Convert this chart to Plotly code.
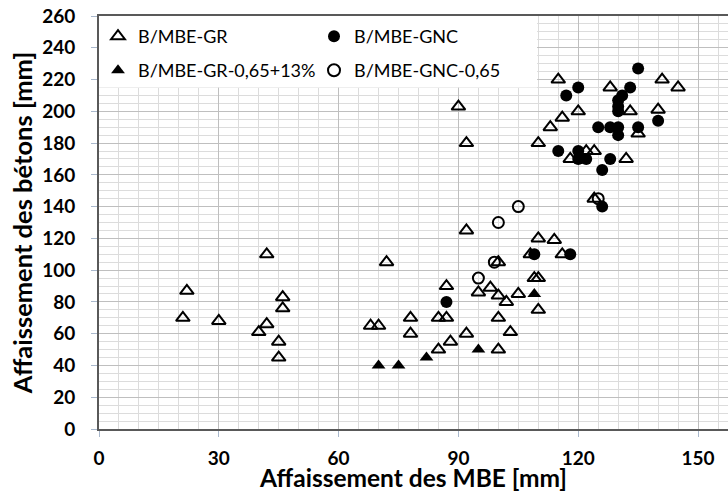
import plotly.graph_objects as go

# ---- data ----
gr_x = [22, 21, 30, 42, 46, 46, 42, 40, 45, 45,
        72, 68, 70, 78, 78, 85, 88, 85, 87, 87,
        92, 100, 95, 98, 100, 102, 105, 100, 103,
        92, 110, 114, 108, 116, 100, 109, 110, 110,
        124, 90, 92,
        115, 141, 145, 128, 133, 140, 120, 116, 113, 110, 135, 118, 122, 124, 132]
gr_y = [87, 70, 68, 110, 83, 76, 66, 61, 55, 45,
        105, 65, 65, 70, 60, 50, 55, 70, 70, 90,
        60, 50, 86, 89, 84, 80, 85, 70, 61,
        125, 120, 119, 110, 110, 105, 95, 95, 75,
        145, 203, 180,
        220, 220, 215, 215, 200, 201, 200, 196, 190, 180, 186, 170, 175, 175, 170]

gnc_x = [87, 109, 118, 126, 135, 120, 117, 133, 131, 130, 130, 130, 140,
         125, 128, 130, 130, 135, 115, 120, 120, 122, 128, 126]
gnc_y = [80, 110, 110, 140, 227, 215, 210, 215, 210, 207, 203, 200, 194,
         190, 190, 190, 185, 190, 175, 175, 170, 170, 170, 163]

gr65_x = [70, 75, 82, 95, 109]
gr65_y = [40, 40, 45, 50, 85]

gnc65_x = [95, 99, 100, 105, 125]
gnc65_y = [95, 105, 130, 140, 145]

names = ["B/MBE-GR", "B/MBE-GNC", "B/MBE-GR-0,65+13%", "B/MBE-GNC-0,65"]
x_title = "Affaissement des MBE [mm]"
y_title = "Affaissement des bétons [mm]"

FONT = "Lato"

fig = go.Figure()
fig.add_trace(go.Scatter(x=gr_x, y=gr_y, mode="markers", name=names[0], legend="legend",
                         marker=dict(symbol="triangle-up-open", size=12, color="black",
                                     line=dict(width=2, color="black"))))
fig.add_trace(go.Scatter(x=gnc_x, y=gnc_y, mode="markers", name=names[1], legend="legend2",
                         marker=dict(symbol="circle", size=12, color="black")))
fig.add_trace(go.Scatter(x=gr65_x, y=gr65_y, mode="markers", name=names[2], legend="legend3",
                         marker=dict(symbol="triangle-up", size=12, color="black")))
fig.add_trace(go.Scatter(x=gnc65_x, y=gnc65_y, mode="markers", name=names[3], legend="legend4",
                         marker=dict(symbol="circle-open", size=11, color="black",
                                     line=dict(width=2, color="black"))))

# white box behind the legend (covers the grid)
fig.add_shape(type="rect", xref="x", yref="y", x0=0, x1=109.7, y0=215, y1=260,
              fillcolor="white", line=dict(width=0), layer="between")

W, H = 728, 492


def leg(px_left, px_top):
    return dict(orientation="h", xref="container", yref="container",
                x=px_left / W, y=1 - px_top / H, xanchor="left", yanchor="top",
                bgcolor="rgba(0,0,0,0)", font=dict(size=18, family=FONT, color="black"),
                itemsizing="constant")


fig.update_layout(
    width=W, height=H,
    margin=dict(l=99, r=0, t=16, b=63, autoexpand=False),
    paper_bgcolor="white", plot_bgcolor="white",
    font=dict(family=FONT, color="black"),
    showlegend=True,
    legend=leg(98, 18),
    legend2=leg(314, 18),
    legend3=leg(98, 52),
    legend4=leg(314, 52),
    xaxis=dict(range=[0, 157.5], tickvals=[0, 30, 60, 90, 120, 150],
               showgrid=True, gridcolor="#bfbfbf", gridwidth=1,
               minor=dict(dtick=5, tick0=0, showgrid=True, gridcolor="#dcdcdc", gridwidth=1),
               showline=True, linecolor="#595959", linewidth=2, mirror=True,
               ticks="outside", ticklen=6, tickcolor="#a9b8cc",
               ticklabelstandoff=5,
               tickfont=dict(size=19, family=FONT, color="black", weight="bold"),
               title=dict(text=x_title, standoff=7,
                          font=dict(size=24.5, family=FONT, color="black", weight="bold")),
               automargin=False, zeroline=False),
    yaxis=dict(range=[0, 260], dtick=20,
               showgrid=True, gridcolor="#bfbfbf", gridwidth=1,
               minor=dict(dtick=5, tick0=0, showgrid=True, gridcolor="#dcdcdc", gridwidth=1),
               showline=True, linecolor="#595959", linewidth=2, mirror=True,
               ticks="outside", ticklen=6, tickcolor="#a9b8cc",
               ticklabelstandoff=12,
               tickfont=dict(size=19, family=FONT, color="black", weight="bold"),
               title=dict(text=y_title, standoff=2,
                          font=dict(size=25.5, family=FONT, color="black", weight="bold")),
               automargin=False, zeroline=False),
)

fig.write_html("out.html", config={"displayModeBar": False},
               post_script="document.body.style.margin='0';document.body.style.overflow='hidden';")
